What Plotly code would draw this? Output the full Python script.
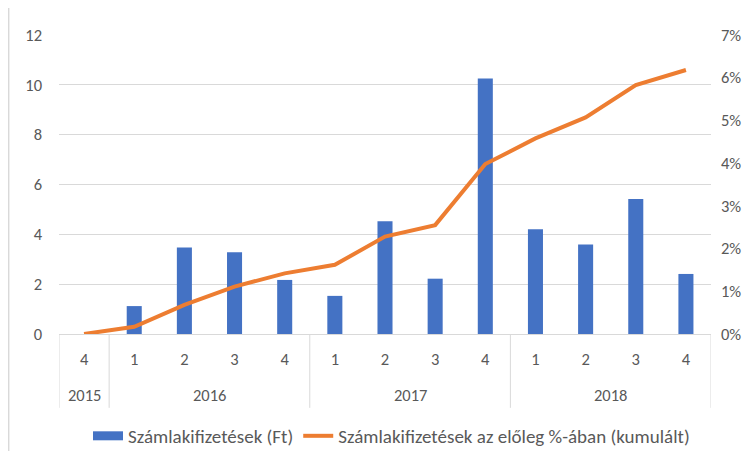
import plotly.graph_objects as go

years = ["2015", "2016", "2016", "2016", "2016", "2017", "2017", "2017", "2017", "2018", "2018", "2018", "2018"]
quarters = ["4", "1", "2", "3", "4", "1", "2", "3", "4", "1", "2", "3", "4"]
payments = [0, 1.12, 3.47, 3.28, 2.17, 1.53, 4.53, 2.22, 10.25, 4.2, 3.59, 5.42, 2.41]
cumulative_pct = [0, 0.17, 0.68, 1.11, 1.42, 1.62, 2.28, 2.55, 3.98, 4.58, 5.07, 5.83, 6.18]

bar_name = "Számlakifizetések (Ft)"
line_name = "Számlakifizetések az előleg %-ában (kumulált)"

gray = "#595959"
grid = "#d9d9d9"
blue = "#4472C4"
orange = "#ED7D31"
font_family = "Carlito, Calibri, Lato, 'Liberation Sans', Arial, sans-serif"
tick_fs = 16.5
legend_fs = 19

keys = [f"{y}-{q}" for y, q in zip(years, quarters)]

fig = go.Figure()
fig.add_trace(go.Bar(
    x=keys, y=payments,
    name=bar_name, legendgroup="bar", showlegend=False,
    marker=dict(color=blue, line=dict(width=0)),
    yaxis="y",
))
# legend swatch for the bars (wide rectangle like the original)
fig.add_trace(go.Scatter(
    x=[None], y=[None], name=bar_name, legendgroup="bar",
    mode="lines", line=dict(color=blue, width=9), yaxis="y",
))
fig.add_trace(go.Scatter(
    x=keys, y=cumulative_pct,
    name=line_name,
    mode="lines",
    line=dict(color=orange, width=4),
    yaxis="y2",
))

# year groups: label centred on the group, dividers at group edges
groups = []
for i, y in enumerate(years):
    if not groups or groups[-1][0] != y:
        groups.append([y, i, i])
    else:
        groups[-1][2] = i

annotations = []
shapes = []
for y, start, end in groups:
    annotations.append(dict(
        x=(start + end) / 2, xref="x", y=-0.204, yref="paper",
        text=y, showarrow=False, yanchor="middle",
        font=dict(size=tick_fs, color=gray, family=font_family),
    ))
    shapes.append(dict(type="line", xref="x", yref="paper",
                       x0=start - 0.5, x1=start - 0.5, y0=0, y1=-0.247,
                       line=dict(color=grid, width=1)))
shapes.append(dict(type="line", xref="x", yref="paper",
                   x0=len(years) - 0.5, x1=len(years) - 0.5, y0=0, y1=-0.247,
                   line=dict(color=grid, width=1)))
# chart border on the left
shapes.append(dict(type="line", xref="paper", yref="paper", x0=-0.0772, x1=-0.0772,
                   y0=-0.45, y1=1.15, line=dict(color=grid, width=1.5)))

fig.update_layout(
    width=737, height=443,
    margin=dict(l=51, r=34, t=27, b=117, autoexpand=False),
    paper_bgcolor="white", plot_bgcolor="white",
    font=dict(family=font_family, size=tick_fs, color=gray),
    bargap=0.7,
    showlegend=True,
    legend=dict(orientation="h", x=0.51, xanchor="center", y=-0.341, yanchor="middle",
                font=dict(size=legend_fs, color=gray), tracegroupgap=0),
    xaxis=dict(
        type="category", automargin=False,
        tickvals=keys, ticktext=quarters,
        showline=True, linecolor=grid, linewidth=1,
        showgrid=False, ticks="", ticklabelstandoff=10,
        tickfont=dict(size=tick_fs, color=gray),
        range=[-0.5, len(keys) - 0.5],
    ),
    yaxis=dict(
        range=[0, 12], dtick=2, showgrid=True, gridcolor=grid, gridwidth=1,
        zeroline=False, showline=False, ticks="", automargin=False,
        tickfont=dict(size=tick_fs, color=gray), ticklabelstandoff=16,
    ),
    yaxis2=dict(
        range=[0, 7], dtick=1, overlaying="y", side="right",
        showgrid=False, zeroline=False, showline=False, ticks="", automargin=False,
        ticksuffix="%", tickfont=dict(size=tick_fs, color=gray), ticklabelstandoff=9,
    ),
    annotations=annotations,
    shapes=shapes,
)

fig.write_html("out.html")
